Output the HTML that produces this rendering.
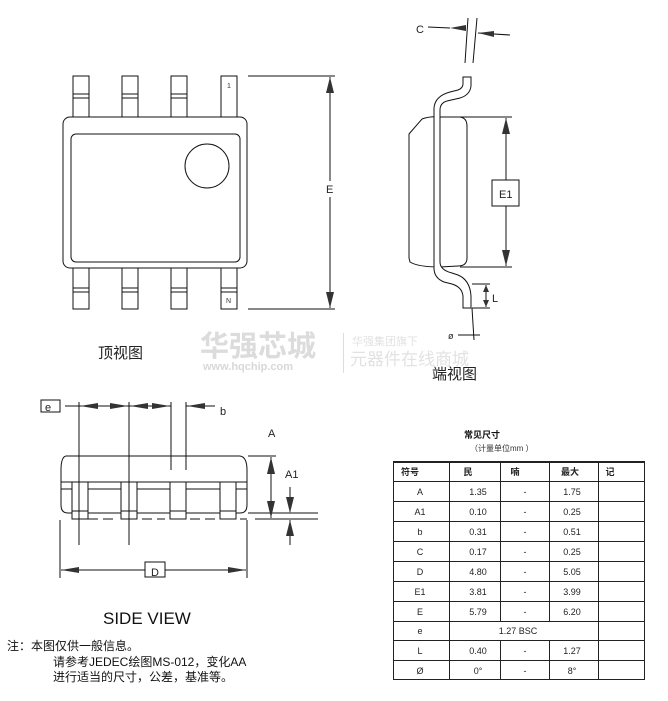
<!DOCTYPE html>
<html><head><meta charset="utf-8"><style>
body{margin:0;background:#fff;}
svg{display:block;font-family:"Liberation Sans","DejaVu Sans","Noto Sans CJK SC",sans-serif;}
</style></head><body>
<svg width="668" height="701" viewBox="0 0 668 701" xmlns="http://www.w3.org/2000/svg">
<defs>
<marker id="ar" markerWidth="10" markerHeight="6" refX="10" refY="3" orient="auto" markerUnits="userSpaceOnUse"><path d="M0,0 L10,3 L0,6 Z" fill="#333"/></marker>
</defs>
<g fill="none" stroke="#111" stroke-width="1">
<!-- Top view -->
<rect x="73" y="76" width="16" height="42" fill="#fff"/>
<rect x="122" y="76" width="16" height="42" fill="#fff"/>
<rect x="171" y="76" width="16" height="42" fill="#fff"/>
<rect x="221" y="76" width="16" height="42" fill="#fff"/>
<rect x="73" y="268" width="16" height="41" fill="#fff"/>
<rect x="122" y="268" width="16" height="41" fill="#fff"/>
<rect x="171" y="268" width="16" height="41" fill="#fff"/>
<rect x="221" y="268" width="16" height="41" fill="#fff"/>
<path d="M73 94H89M73 98H89M122 94H138M122 98H138M171 94H187M171 98H187M73 288H89M73 292H89M122 288H138M122 292H138M171 288H187M171 292H187M221 288H237M221 292H237"/>
<rect x="63" y="117" width="184" height="151" rx="7" fill="#fff"/>
<rect x="71" y="134" width="169" height="128" rx="5"/>
<circle cx="207" cy="166" r="22"/>
<path d="M248 76H335M248 309H335M330 77V181M330 197V308" />
</g>
<path d="M330 77L326 93H334Z M330 308L326 292H334Z" fill="#333"/>
<g font-size="7" fill="#333"><text x="227" y="88">1</text><text x="226" y="303">N</text></g>
<text x="326" y="193" font-size="11" fill="#222">E</text>
<text x="98" y="358" font-size="15" fill="#222">顶视图</text>

<!-- watermark -->
<g fill="#e2e2e2">
<text x="200" y="356" font-size="29" font-weight="bold" fill="#dcdcdc">华强芯城</text>
<text x="203" y="370" font-size="11" font-weight="bold" fill="#d8d8d8">www.hqchip.com</text>
<rect x="343" y="333" width="1" height="40" fill="#ddd"/>
<text x="352" y="345" font-size="11">华强集团旗下</text>
<text x="350" y="365" font-size="17">元器件在线商城</text>
</g>

<!-- End view -->
<g fill="none" stroke="#111" stroke-width="1">
<path d="M409 134L422 119Q430 116 440 117L460 117Q467 118 467 126V258Q467 266 458 266L440 267Q418 267 410 262L409 258Z" fill="#fff"/>
<path d="M463 77H471V86Q470 95 460 98L447 101Q440 103 440 110V262Q440 270 452 273L458 275Q470 280 471 296V308H463V296Q462 287 452 284L444 282Q434 278 434 268V108Q435 96 450 92L458 90Q463 88 463 84Z" fill="#fff"/>
<path d="M468 18L465 63M477 18L473 63M428 27L450 28M478 33L510 35"/>
<path d="M460 117H512M460 267H512M506 118V180M506 206V266"/>
<rect x="492" y="180" width="27" height="26" fill="#fff"/>
<path d="M472 284H490M472 308H490M486 285V307M472 308L474 340M458 335H480"/>
</g>
<path d="M450 28L466 25L466 31Z M478 33L494 31L494 37Z M506 118L502 134H510Z M506 266L502 250H510Z M486 285L483 292H489Z M486 307L483 300H489Z" fill="#333"/>
<text x="416" y="33" font-size="11" fill="#222">C</text>
<text x="499" y="198" font-size="11" fill="#222">E1</text>
<text x="492" y="302" font-size="11" fill="#222">L</text>
<text x="448" y="339" font-size="9" fill="#222">ø</text>
<text x="432" y="379" font-size="15" fill="#222">端视图</text>

<!-- Side view -->
<g fill="none" stroke="#111" stroke-width="1">
<path d="M66 456H240Q247 457 247 470V505Q247 513 240 513H68Q61 513 61 505V470Q61 457 66 456Z"/>
<path d="M61 482H247M61 489H247"/>
<rect x="72" y="482" width="16" height="37" fill="#fff"/>
<rect x="121" y="482" width="16" height="37" fill="#fff"/>
<rect x="170" y="482" width="16" height="37" fill="#fff"/>
<rect x="220" y="482" width="16" height="37" fill="#fff"/>
<path d="M72 511H88M121 511H137M170 511H186M220 511H236"/>
<path d="M88 519H114M142 519H165M190 519H215M240 519H247" stroke-dasharray="10 5"/>
<path d="M79 402V545M129 402V545M171 402V470M186 402V470"/>
<path d="M65 406H79M79 406H129M129 406H171M186 406H215"/>
<rect x="41" y="400" width="19" height="12" fill="#fff"/>
<path d="M248 456H276M248 513H318M255 519H318M271 457V518M290 487V512M290 520V545"/>
<path d="M60 520V578M247 520V578M61 570H145M165 570H246"/>
<rect x="145" y="562" width="20" height="15" fill="#fff"/>
</g>
<path d="M80 406L98 403V409Z M128 406L110 403V409Z M130 406L148 403V409Z M170 406L152 403V409Z M187 406L205 403V409Z M271 457L267 474H275Z M271 518L267 501H275Z M290 513L286 497H294Z M290 520L286 536H294Z M61 570L79 567V573Z M246 570L228 567V573Z" fill="#333"/>
<text x="45" y="411" font-size="11" fill="#222">e</text>
<text x="220" y="415" font-size="11" fill="#222">b</text>
<text x="268" y="437" font-size="11" fill="#222">A</text>
<text x="285" y="478" font-size="11" fill="#222">A1</text>
<text x="151" y="576" font-size="11" fill="#222">D</text>
<text x="103" y="624" font-size="17" fill="#111">SIDE VIEW</text>
<g font-size="12" fill="#111">
<text x="7" y="650">注：本图仅供一般信息。</text>
<text x="53" y="666">请参考JEDEC绘图MS-012，变化AA</text>
<text x="53" y="681">进行适当的尺寸，公差，基准等。</text>
</g>

<!-- Table -->
<text x="464" y="438" font-size="9" font-weight="bold" fill="#111">常见尺寸</text>
<text x="470" y="451" font-size="8" fill="#333">（计量单位mm ）</text>
<g fill="none" stroke="#222" stroke-width="1">
<rect x="393.5" y="461.5" width="251" height="218"/>
<path d="M393 462H645" stroke-width="2"/>
<path d="M449.5 461V680M500.5 461V621M500.5 640V680M549.5 461V621M549.5 640V680M598.5 461V680"/>
<path d="M393 481.5H645M393 501.5H645M393 521.5H645M393 541.5H645M393 561.5H645M393 581.5H645M393 601.5H645M393 621.5H645M393 640.5H645M393 660.5H645"/>
</g>
<g font-size="9" fill="#222" text-anchor="middle">
<text x="410" y="475" font-weight="bold">符号</text>
<text x="468" y="475" font-weight="bold">民</text>
<text x="515" y="475" font-weight="bold">喃</text>
<text x="570" y="475" font-weight="bold">最大</text>
<text x="610" y="475" font-weight="bold">记</text>
<text x="420" y="495">A</text><text x="478" y="495">1.35</text><text x="525" y="495">-</text><text x="572" y="495">1.75</text>
<text x="420" y="515">A1</text><text x="478" y="515">0.10</text><text x="525" y="515">-</text><text x="572" y="515">0.25</text>
<text x="420" y="535">b</text><text x="478" y="535">0.31</text><text x="525" y="535">-</text><text x="572" y="535">0.51</text>
<text x="420" y="555">C</text><text x="478" y="555">0.17</text><text x="525" y="555">-</text><text x="572" y="555">0.25</text>
<text x="420" y="575">D</text><text x="478" y="575">4.80</text><text x="525" y="575">-</text><text x="572" y="575">5.05</text>
<text x="420" y="595">E1</text><text x="478" y="595">3.81</text><text x="525" y="595">-</text><text x="572" y="595">3.99</text>
<text x="420" y="615">E</text><text x="478" y="615">5.79</text><text x="525" y="615">-</text><text x="572" y="615">6.20</text>
<text x="420" y="634">e</text><text x="518" y="634">1.27 BSC</text>
<text x="420" y="654">L</text><text x="478" y="654">0.40</text><text x="525" y="654">-</text><text x="572" y="654">1.27</text>
<text x="420" y="674">Ø</text><text x="478" y="674">0°</text><text x="525" y="674">-</text><text x="572" y="674">8°</text>
</g>
</svg>
</body></html>
